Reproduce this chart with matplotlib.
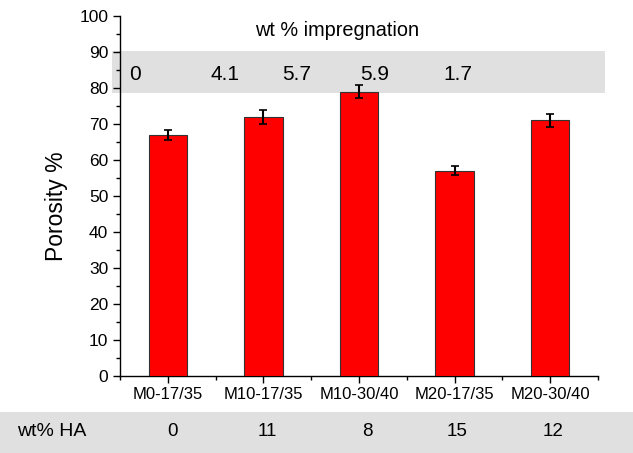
import matplotlib
matplotlib.use("Agg")
import matplotlib.pyplot as plt
from matplotlib.patches import Rectangle
from matplotlib.ticker import MultipleLocator, FixedLocator

plt.rcParams['font.family'] = ['Liberation Sans', 'DejaVu Sans']

categories = ["M0-17/35", "M10-17/35", "M10-30/40", "M20-17/35", "M20-30/40"]
porosity = [67, 72, 79, 57, 71]
porosity_err = [1.4, 2.0, 1.8, 1.2, 1.9]
impregnation = ["0", "4.1", "5.7", "5.9", "1.7"]
ha_wt = ["0", "11", "8", "15", "12"]

W, H = 633, 453
fig = plt.figure(figsize=(W / 100, H / 100), dpi=100)
ax = fig.add_axes([120 / W, 1 - 376 / H, (598 - 120) / W, (376 - 16) / H])

x = list(range(len(categories)))
ax.bar(x, porosity, width=0.4, color="#ff0000", edgecolor="#333333", linewidth=0.8, zorder=3)
ax.errorbar(x, porosity, yerr=porosity_err, fmt="none", ecolor="black",
            elinewidth=1.5, capsize=3, capthick=1.2, zorder=4)

ax.set_xlim(-0.5, len(categories) - 0.5)
ax.set_ylim(0, 100)
ax.set_xticks(x)
ax.set_xticklabels(categories, fontsize=12)
ax.xaxis.set_minor_locator(FixedLocator([i + 0.5 for i in range(-1, len(categories))]))
ax.yaxis.set_major_locator(MultipleLocator(10))
ax.yaxis.set_minor_locator(MultipleLocator(5))
ax.tick_params(axis="y", which="major", labelsize=12.5, length=5, width=1, direction="out")
ax.tick_params(axis="y", which="minor", length=3, width=1, direction="out")
ax.tick_params(axis="x", which="major", length=5, width=1, direction="out", pad=3)
ax.tick_params(axis="x", which="minor", length=3, width=1, direction="out")
ax.spines["top"].set_visible(False)
ax.spines["right"].set_visible(False)
for s in ("left", "bottom"):
    ax.spines[s].set_linewidth(1)
ax.set_ylabel("Porosity %", fontsize=16.5)
ax.yaxis.set_label_coords(-(120 - 68) / (598 - 120), (376 - 206) / (376 - 16))

# top grey band for impregnation
band = Rectangle((112 / W, 1 - 93 / H), (605 - 112) / W, (93 - 51) / H,
                 transform=fig.transFigure, facecolor="#e0e0e0", edgecolor="none",
                 clip_on=False, zorder=1)
ax.add_patch(band)
fig.text(337 / W, 1 - 31 / H, "wt % impregnation", fontsize=14.3, ha="center", va="center")
imp_x = [135, 225, 297, 375, 458]
for px, t in zip(imp_x, impregnation):
    fig.text(px / W, 1 - 75 / H, t, fontsize=15, ha="center", va="center", zorder=5)

# bottom grey band for HA
fig.patches.append(Rectangle((0, 0), 1, (H - 412) / H, transform=fig.transFigure,
                             facecolor="#e0e0e0", edgecolor="none", zorder=0))
fig.text(17 / W, 1 - 432 / H, "wt% HA", fontsize=14, ha="left", va="center")
ha_x = [172, 267, 367, 457, 553]
for px, t in zip(ha_x, ha_wt):
    fig.text(px / W, 1 - 431 / H, t, fontsize=13.5, ha="center", va="center")

fig.savefig("out.png", dpi=100)
